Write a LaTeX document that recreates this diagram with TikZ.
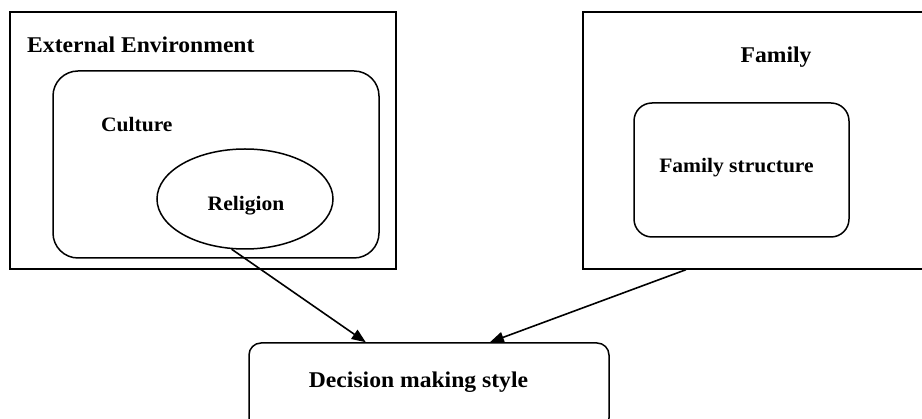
\documentclass[tikz,border=0pt]{standalone}
\usepackage{fontspec}
\setmainfont{Liberation Serif}[FakeStretch=1.05]
\usepackage{tikz}
\usetikzlibrary{arrows.meta,shapes.geometric}

\begin{document}
\begin{tikzpicture}[x=1pt,y=-1pt,
  frame/.style={draw,line width=1.5pt,rectangle,inner sep=0pt},
  roundbox/.style={frame,rounded corners=#1},
  bigtxt/.style={font=\fontsize{22.5}{24}\selectfont\bfseries,inner sep=0pt},
  smalltxt/.style={font=\fontsize{20.5}{22}\selectfont\bfseries,inner sep=0pt},
  link/.style={line width=1.6pt,-{Triangle[length=14pt,width=11pt]}}]
\useasboundingbox (0,0) rectangle (922,419);
\clip (0,0) rectangle (922,419);
\node[frame,minimum width=386pt,minimum height=257pt] (extenv) at (203,140.5) {};
\node[roundbox=25pt,minimum width=326pt,minimum height=187pt] (culture) at (216,164.5) {};
\node[draw,line width=1.5pt,ellipse,minimum width=176pt,minimum height=100pt] (religion) at (245,199) {};
\node[frame,minimum width=349pt,minimum height=257pt] (family) at (757.5,140.5) {};
\node[roundbox=18pt,minimum width=215pt,minimum height=134pt] (famstruct) at (741.5,170) {};
\node[roundbox=12pt,minimum width=360pt,minimum height=87pt] (decision) at (429,386.5) {};
\node[bigtxt,anchor=west] (extenvlbl) at (27,45) {External Environment};
\node[smalltxt,anchor=west] (culturelbl) at (101,125) {Culture};
\node[smalltxt] (religionlbl) at (246,206) {Religion};
\node[bigtxt] (familylbl) at (776,57.5) {Family};
\node[smalltxt] (famstructlbl) at (736.5,168) {Family structure};
\node[bigtxt] (decisionlbl) at (418.5,382) {Decision making style};
\draw[link] (religion.255) -- (decision.145);
\draw[link] (family.241.6) -- (decision.36.4);
\end{tikzpicture}
\end{document}
